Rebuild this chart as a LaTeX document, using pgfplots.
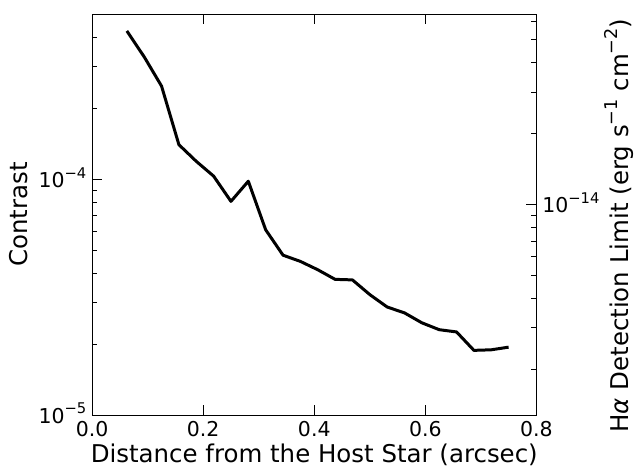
\documentclass[border=0pt]{standalone}
\usepackage{fontspec}
\setmainfont{DejaVu Sans}
\usepackage{pgfplots}
\pgfplotsset{compat=1.18}

% superscript helper for exponents in the text font
\newcommand\expo[2]{#1\raisebox{0.45em}{\fontsize{0.72em}{0.72em}\selectfont #2}}

\pgfplotsset{
  sharedframe/.style={
    scale only axis,
    width=445bp, height=401.4bp,
    xmin=0, xmax=0.8,
    axis line style={line width=1bp},
    tick style={line width=0.8bp, black},
    major tick length=10bp,
    minor tick length=5bp,
    tick align=inside,
    ticklabel style={font=\fontsize{20.5bp}{24bp}\selectfont},
    label style={font=\fontsize{24.5bp}{29bp}\selectfont},
  }
}

\pgfplotstableread{
r        c
0.0625   4.25e-4
0.09375  3.30e-4
0.125    2.48e-4
0.15625  1.40e-4
0.1875   1.19e-4
0.21875  1.03e-4
0.25     8.05e-5
0.28125  9.80e-5
0.3125   6.10e-5
0.34375  4.76e-5
0.375    4.48e-5
0.40625  4.13e-5
0.4375   3.76e-5
0.46875  3.74e-5
0.5      3.24e-5
0.53125  2.87e-5
0.5625   2.71e-5
0.59375  2.46e-5
0.625    2.30e-5
0.65625  2.25e-5
0.6875   1.88e-5
0.71875  1.89e-5
0.75     1.94e-5
}\contrastcurve

\begin{document}
\begin{tikzpicture}
% contrast on the left axis
\begin{semilogyaxis}[
  sharedframe,
  ymin=1e-5, ymax=5e-4,
  xtick={0,0.2,0.4,0.6,0.8},
  xticklabels={0.0,0.2,0.4,0.6,0.8},
  xtick pos=both,
  xticklabel style={anchor=north, inner sep=0pt, yshift=-6bp},
  ytick={1e-5,1e-4},
  yticklabels={\expo{10}{−5},\expo{10}{−4}},
  minor ytick={2e-5,3e-5,4e-5,5e-5,6e-5,7e-5,8e-5,9e-5,2e-4,3e-4,4e-4},
  ytick pos=left,
  yticklabel style={anchor=base east, inner sep=0pt, xshift=-5.6bp, yshift=-8.2bp},
  xlabel={Distance from the Host Star (arcsec)},
  xlabel style={at={(axis description cs:0.5,-0.1185)}, anchor=base, inner sep=0pt},
  ylabel={Contrast},
  ylabel style={at={(axis description cs:-0.1445,0.5)}, anchor=south, inner sep=0pt},
]
\addplot[black, line width=3bp, line join=round] table[x=r, y=c] {\contrastcurve};
\end{semilogyaxis}
% equivalent H-alpha flux limit on the right axis
\begin{semilogyaxis}[
  sharedframe,
  ymin=1.28e-15, ymax=6.4e-14,
  xtick=\empty,
  ytick={1e-14},
  yticklabels={\expo{10}{−14}},
  minor ytick={2e-15,3e-15,4e-15,5e-15,6e-15,7e-15,8e-15,9e-15,2e-14,3e-14,4e-14,5e-14,6e-14},
  ytick pos=right,
  yticklabel style={anchor=base west, inner sep=0pt, xshift=5.7bp, yshift=-8bp},
  ylabel={H\textit{α} Detection Limit (erg \expo{s}{−1} \expo{cm}{−2})},
  ylabel style={at={(axis description cs:1.2083,0.4726)}, anchor=base, inner sep=0pt},
]
\addplot[draw=none] coordinates {(0.1,1e-14)};
\end{semilogyaxis}
\path (-92.3bp,-52.3bp) rectangle (541.7bp,415.7bp);
\end{tikzpicture}
\end{document}
